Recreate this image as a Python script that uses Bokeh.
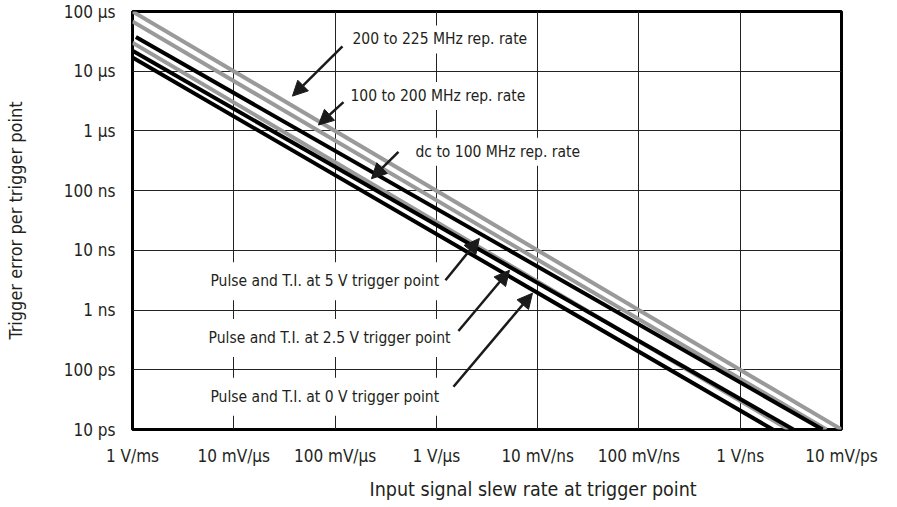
from bokeh.plotting import figure
from bokeh.models import FixedTicker, Label, Arrow, NormalHead, Range1d, Title
from bokeh.embed import file_html
from bokeh.resources import INLINE

# ---- axis ticks ----
x_ticks = [1e3, 1e4, 1e5, 1e6, 1e7, 1e8, 1e9, 1e10]
x_tick_labels = ["1 V/ms", "10 mV/µs", "100 mV/µs", "1 V/µs", "10 mV/ns", "100 mV/ns", "1 V/ns", "10 mV/ps"]
y_ticks = [1e-11, 1e-10, 1e-9, 1e-8, 1e-7, 1e-6, 1e-5, 1e-4]
y_tick_labels = ["10 ps", "100 ps", "1 ns", "10 ns", "100 ns", "1 µs", "10 µs", "100 µs"]

# ---- series (start/end points of each straight log-log line) ----
series_names = ["200 to 225 MHz rep. rate", "100 to 200 MHz rep. rate", "dc to 100 MHz rep. rate",
                "Pulse and T.I. at 5 V trigger point", "Pulse and T.I. at 2.5 V trigger point",
                "Pulse and T.I. at 0 V trigger point"]
slew_start = [1e3, 1e3, 1e3, 1.08e3, 1e3, 1e3]
slew_end = [1e10, 7.1e9, 3.0e9, 6.5e9, 3.35e9, 2.1e9]
error_start = [1e-4, 6.8e-5, 3.0e-5, 3.75e-5, 2.2e-5, 1.7e-5]
error_end = [1e-11, 1e-11, 1e-11, 1e-11, 1e-11, 1e-11]
series_colors = ["#9a9a9a", "#9a9a9a", "#9a9a9a", "#000000", "#000000", "#000000"]

# ---- annotation anchors (log10 data coords) ----
label_pos = [(5.122, -4.467), (5.103, -5.417), (5.744, -6.35),
             (3.671, -8.517), (3.652, -9.467), (3.671, -10.45)]
label_pad = [5, 5, 5, 10, 10, 10]
arrow_tail = [(5.073, -4.583), (5.083, -5.517), (5.626, -6.35),
              (6.09, -8.5), (6.218, -9.35), (6.169, -10.283)]
arrow_tip = [(4.579, -5.417), (4.836, -5.9), (5.359, -6.8),
             (6.425, -7.8), (6.722, -8.333), (6.949, -8.717)]

FONT = "'Liberation Sans Narrow', 'DejaVu Sans Condensed', sans-serif"
TXT = "#231f20"

p = figure(width=889, height=507, x_axis_type="log", y_axis_type="log",
           x_range=Range1d(1e3, 1e10), y_range=Range1d(1e-11, 1e-4),
           output_backend="svg", toolbar_location=None,
           min_border_left=132, min_border_right=48, min_border_top=11, min_border_bottom=75)

p.background_fill_color = "white"
p.border_fill_color = "white"
p.outline_line_color = "black"
p.outline_line_width = 3

for ax, ticks, labels in [(p.xaxis, x_ticks, x_tick_labels), (p.yaxis, y_ticks, y_tick_labels)]:
    ax.ticker = FixedTicker(ticks=ticks)
    ax.major_label_overrides = dict(zip(ticks, labels))
    ax.axis_line_color = None
    ax.major_tick_line_color = None
    ax.minor_tick_line_color = None
    ax.major_tick_out = 0
    ax.major_tick_in = 0
    ax.minor_tick_out = 0
    ax.minor_tick_in = 0
    ax.major_label_text_font = FONT
    ax.major_label_text_font_size = "17px"
    ax.major_label_text_color = TXT

p.xaxis.major_label_standoff = 16
p.yaxis.major_label_standoff = 17

p.yaxis.axis_label = "Trigger error per trigger point"
p.yaxis.axis_label_text_font = FONT
p.yaxis.axis_label_text_font_size = "18px"
p.yaxis.axis_label_text_font_style = "normal"
p.yaxis.axis_label_text_color = TXT
p.yaxis.axis_label_standoff = 35

p.xgrid.ticker = FixedTicker(ticks=x_ticks)
p.ygrid.ticker = FixedTicker(ticks=y_ticks)
for g in (p.xgrid, p.ygrid):
    g.grid_line_color = "#222222"
    g.grid_line_width = 1
    g.grid_line_alpha = 1.0

# lines
for i in range(len(series_names)):
    p.line([slew_start[i], slew_end[i]], [error_start[i], error_end[i]],
           line_color=series_colors[i], line_width=4)

# labels with white box
for name, (lx, ly), pad in zip(series_names, label_pos, label_pad):
    p.add_layout(Label(x=10 ** lx, y=10 ** ly, text=name, text_align="left",
                       text_baseline="middle", text_font=FONT, text_font_size="15.5px",
                       text_color=TXT, background_fill_color="white", padding=pad))

# arrows
for (tx, ty), (hx, hy) in zip(arrow_tail, arrow_tip):
    p.add_layout(Arrow(x_start=10 ** tx, y_start=10 ** ty, x_end=10 ** hx, y_end=10 ** hy,
                       line_color="#1a1a1a", line_width=2.5,
                       end=NormalHead(size=15, fill_color="#1a1a1a", line_color="#1a1a1a")))

# x axis title, offset to the right as in the reference
p.add_layout(Title(text="Input signal slew rate at trigger point", align="left", offset=237,
                   text_font=FONT, text_font_size="19.5px", text_font_style="normal",
                   text_color=TXT, standoff=14), "below")

open("out.html", "w").write(file_html(p, INLINE))
